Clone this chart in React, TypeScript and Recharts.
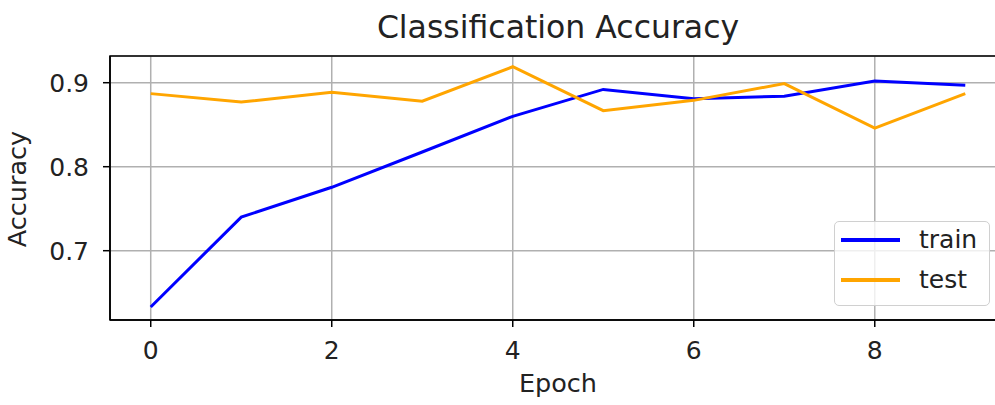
import { CartesianGrid, Line, LineChart, ReferenceArea, XAxis, YAxis } from 'recharts';

const epochs = [0, 1, 2, 3, 4, 5, 6, 7, 8, 9];
const trainAcc = [0.633, 0.74, 0.7755, 0.8175, 0.86, 0.892, 0.881, 0.884, 0.902, 0.897];
const testAcc = [0.887, 0.877, 0.8886, 0.878, 0.919, 0.8667, 0.879, 0.899, 0.846, 0.887];
const xTicks = [0, 2, 4, 6, 8];
const yTicks = [0.7, 0.8, 0.9];

const data = epochs.map((e, i) => ({ epoch: e, train: trainAcc[i], test: testAcc[i] }));

const font = '"DejaVu Sans", sans-serif';
const X_DOMAIN: [number, number] = [-0.45, 9.45];
const Y_DOMAIN: [number, number] = [0.6175, 0.9318];

const series = [
  { key: 'train', color: '#0000ff' },
  { key: 'test', color: '#ffa500' }
];

const LegendBox = () => (
  <div
    style={{
      position: 'absolute',
      left: 834,
      top: 221,
      width: 156,
      height: 85,
      boxSizing: 'border-box',
      border: '1.5px solid #d0d0d0',
      borderRadius: 5,
      background: 'rgba(255,255,255,0.8)',
      fontFamily: font,
      fontSize: 25,
      color: '#222'
    }}
  >
    {series.map((s, i) => (
      <div
        key={s.key}
        style={{ position: 'absolute', left: 6, top: 2 + i * 40, height: 32, display: 'flex', alignItems: 'center' }}
      >
        <div style={{ width: 59, height: 4, background: s.color }} />
        <span style={{ marginLeft: 19, lineHeight: '32px' }}>{s.key}</span>
      </div>
    ))}
  </div>
);

export default function App() {
  return (
    <div style={{ position: 'absolute', left: 0, top: 0, width: 995, height: 405, overflow: 'hidden', background: '#fff' }}>
      <LineChart width={1010} height={405} data={data} margin={{ top: 56, right: 4, bottom: 0, left: 0 }}>
        <CartesianGrid stroke="#b0b0b0" strokeWidth={1.5} />
        <XAxis
          dataKey="epoch"
          type="number"
          domain={X_DOMAIN}
          ticks={xTicks}
          allowDataOverflow
          tickSize={7}
          tickMargin={14}
          tickLine={{ stroke: '#000', strokeWidth: 1.5 }}
          axisLine={{ stroke: '#000', strokeWidth: 1.5 }}
          tick={{ fill: '#222', fontSize: 25, fontFamily: font }}
          height={85}
        />
        <YAxis
          type="number"
          domain={Y_DOMAIN}
          ticks={yTicks}
          allowDataOverflow
          width={110}
          tickSize={7}
          tickMargin={14}
          tickFormatter={(v: number) => v.toFixed(1)}
          tickLine={{ stroke: '#000', strokeWidth: 1.5 }}
          axisLine={{ stroke: '#000', strokeWidth: 1.5 }}
          tick={{ fill: '#222', fontSize: 25, fontFamily: font }}
        />
        <ReferenceArea
          x1={X_DOMAIN[0]}
          x2={X_DOMAIN[1]}
          y1={Y_DOMAIN[0]}
          y2={Y_DOMAIN[1]}
          fill="none"
          stroke="#000"
          strokeWidth={1.5}
          fillOpacity={0}
        />
        {series.map((s) => (
          <Line
            key={s.key}
            dataKey={s.key}
            stroke={s.color}
            strokeWidth={3}
            dot={false}
            activeDot={false}
            isAnimationActive={false}
          />
        ))}
      </LineChart>
      <LegendBox />
      <div
        style={{
          position: 'absolute',
          left: 0,
          width: 1116,
          top: 8,
          textAlign: 'center',
          fontFamily: font,
          fontSize: 31.5,
          lineHeight: '38px',
          color: '#222'
        }}
      >
        Classification Accuracy
      </div>
      <div
        style={{
          position: 'absolute',
          left: 0,
          width: 1116,
          top: 368,
          textAlign: 'center',
          fontFamily: font,
          fontSize: 25.5,
          lineHeight: '30px',
          color: '#222'
        }}
      >
        Epoch
      </div>
      <svg style={{ position: 'absolute', left: 0, top: 0 }} width={60} height={405}>
        <text
          x={26}
          y={189}
          transform="rotate(-90, 26, 189)"
          textAnchor="middle"
          fontFamily={font}
          fontSize={25.5}
          fill="#222"
        >
          Accuracy
        </text>
      </svg>
    </div>
  );
}
